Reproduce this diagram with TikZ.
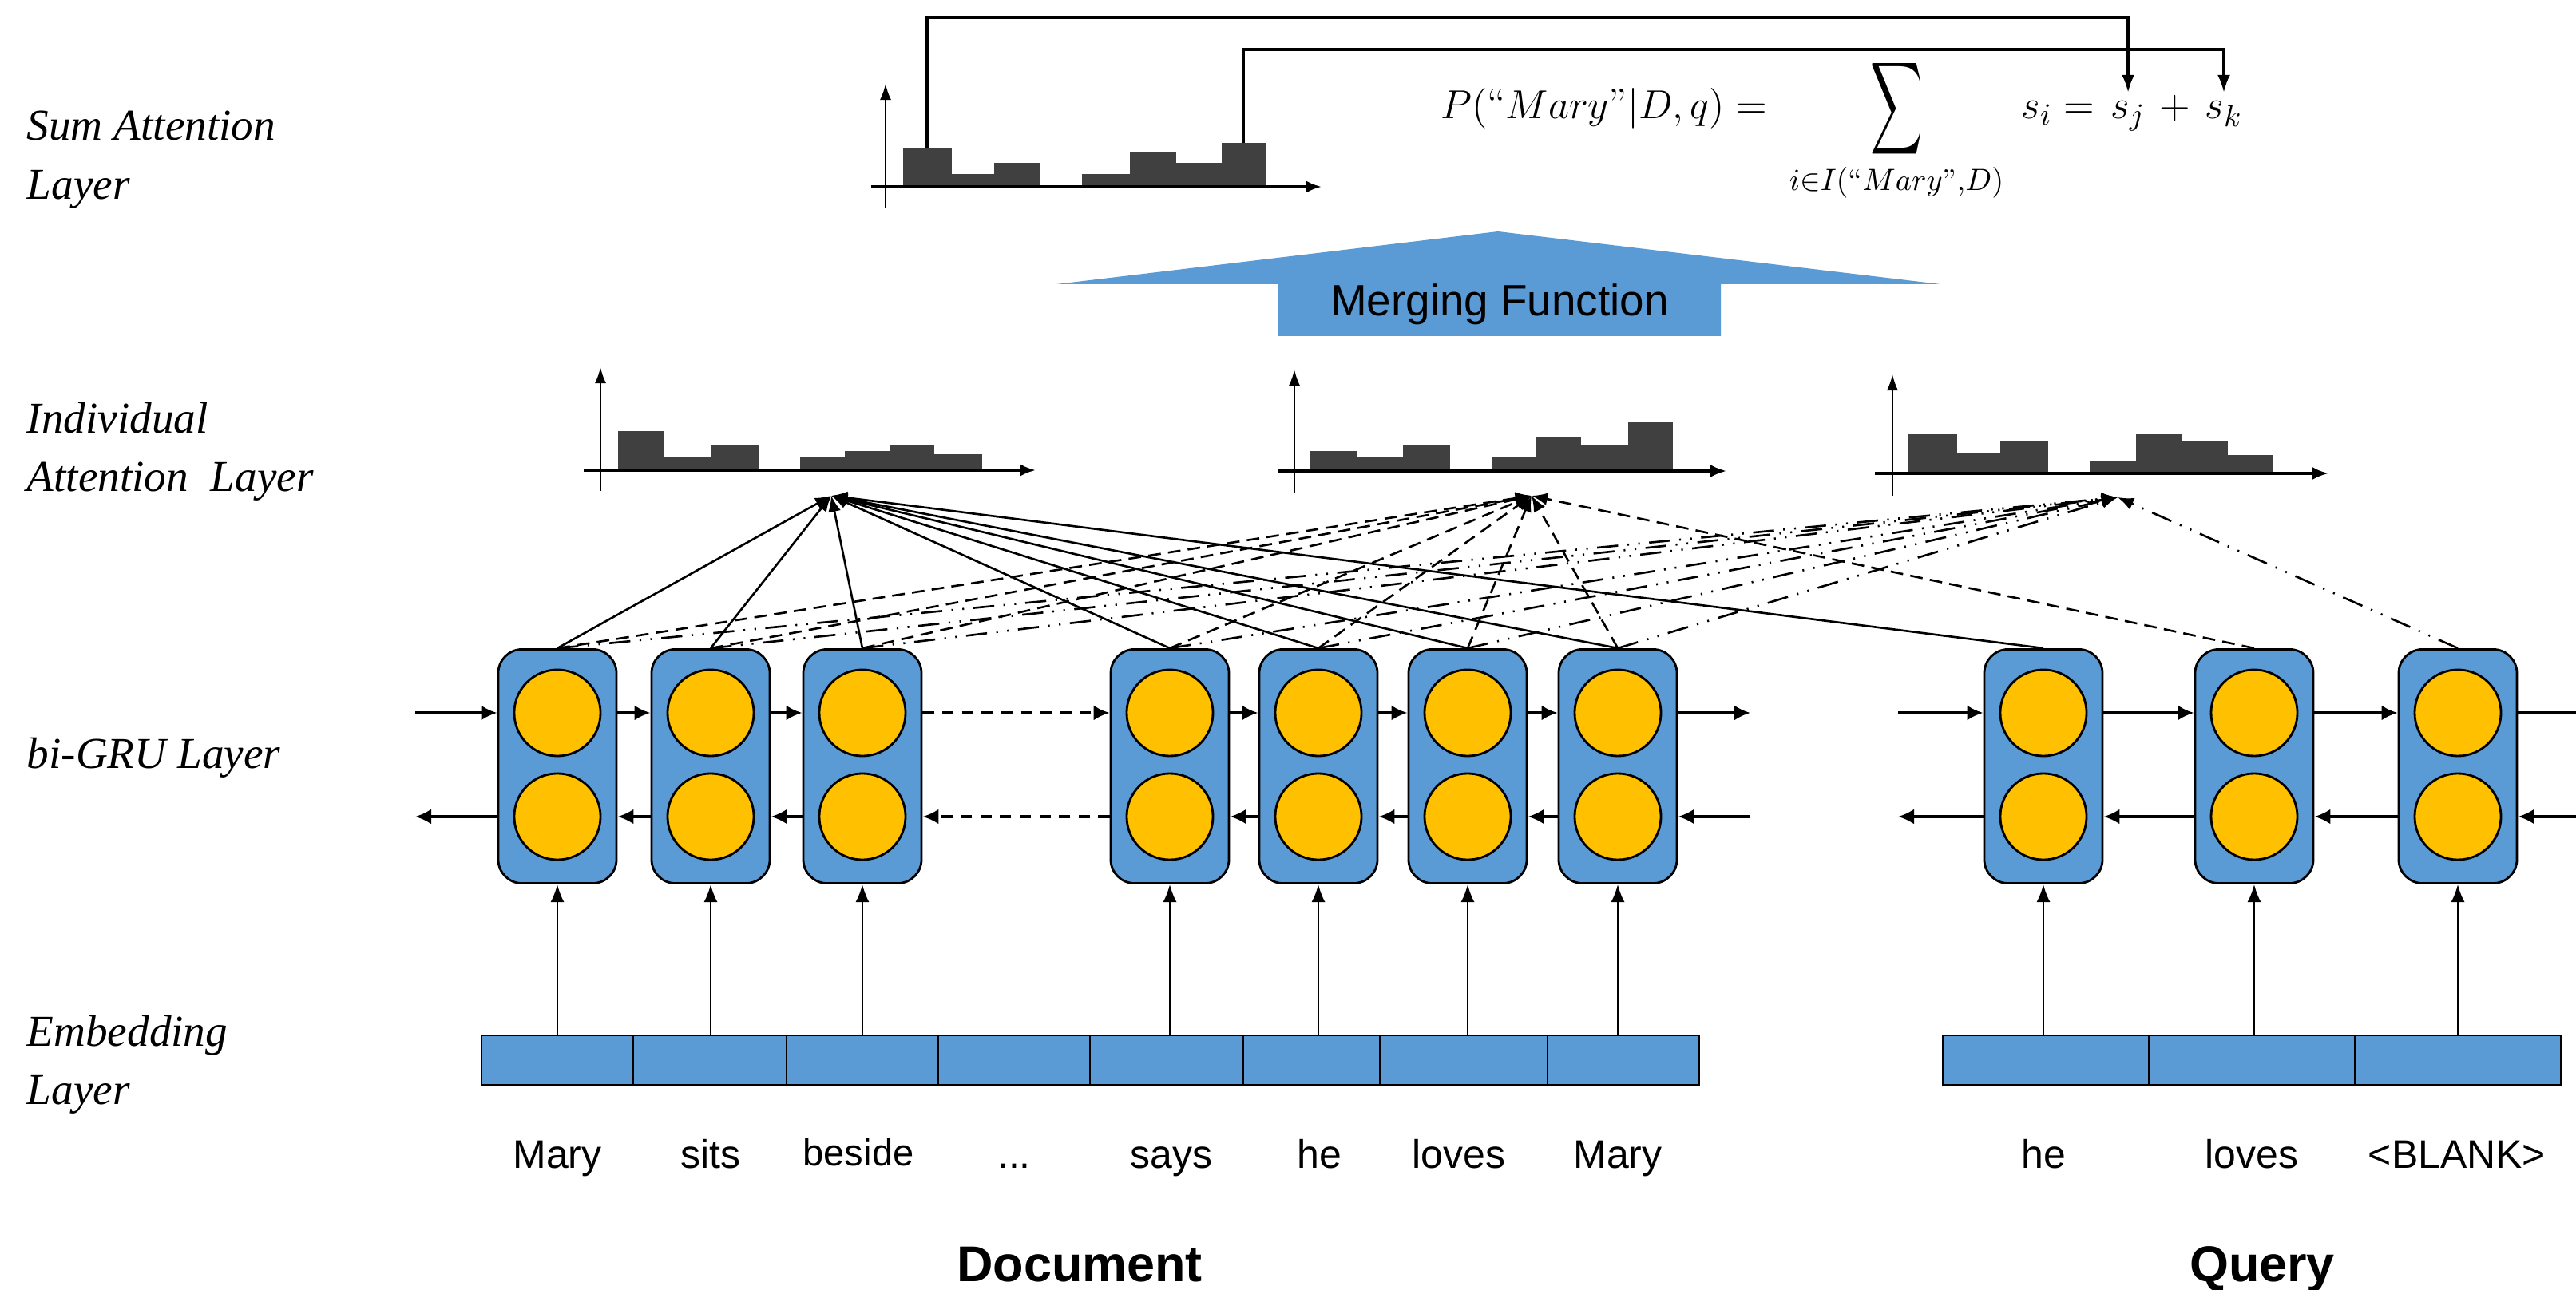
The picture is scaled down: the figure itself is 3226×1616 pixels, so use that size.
\documentclass[tikz,border=0pt]{standalone}
\usepackage{amsmath}
\usepackage{fontspec}
\newfontfamily\labelfont{Liberation Serif}
\newfontfamily\wordfont{Liberation Sans}
\usetikzlibrary{arrows.meta}
\definecolor{gblue}{RGB}{91,155,213}
\definecolor{gyellow}{RGB}{255,192,0}
\definecolor{barcol}{RGB}{64,64,64}
\tikzset{
 layerlbl/.style={anchor=base west, inner sep=0, font=\labelfont\itshape\fontsize{15.7}{19}\selectfont},
 wordlbl/.style={anchor=base, inner sep=0, font=\wordfont\fontsize{14.2}{17}\selectfont},
 formulapart/.style={anchor=base west, inner sep=0, font=\fontsize{15.2}{18}\selectfont},
 grubox/.style={draw=black, line width=0.8pt, fill=gblue, rounded corners=0.3cm, minimum width=1.48cm, minimum height=2.93cm, inner sep=0},
 gruunit/.style={circle, draw=black, line width=0.8pt, fill=gyellow, minimum size=1.08cm, inner sep=0},
 emb/.style={draw=black, line width=0.8pt, fill=gblue, minimum height=0.62cm, inner sep=0, outer sep=0},
 flow/.style={line width=1pt, -{Latex[length=0.2cm,width=0.19cm]}},
 flowdash/.style={flow, dash pattern=on 4pt off 3pt},
 plainflow/.style={line width=1pt},
 embup/.style={line width=0.6pt, -{Latex[length=0.22cm,width=0.17cm]}},
 att/.style={line width=0.75pt, -{Latex[length=0.2cm,width=0.16cm]}},
 attA/.style={att},
 attB/.style={att, dash pattern=on 4.5pt off 2.6pt},
 attC/.style={att, dash pattern=on 7.5pt off 3.3pt on 0.6pt off 3.3pt on 0.6pt off 3.3pt},
 vaxis/.style={line width=0.6pt, -{Latex[length=0.2cm,width=0.14cm]}},
 haxis/.style={line width=1pt, -{Latex[length=0.2cm,width=0.16cm]}},
 hbar/.style={fill=barcol, draw=none},
 sumline/.style={line width=1pt, -{Latex[length=0.22cm,width=0.16cm]}},
 mergearrow/.style={fill=gblue, draw=none},
}
\begin{document}
\begin{tikzpicture}[x=0.01cm, y=-0.01cm]
\useasboundingbox (0,0) rectangle (3226,1616);
\fill[white] (0,0) rectangle (3226,1616);

% ---------- layer labels ----------
\node[layerlbl] (lsum1) at (33,176) {Sum Attention};
\node[layerlbl] (lsum2) at (33,250) {Layer};
\node[layerlbl] (lind1) at (33,543) {Individual};
\node[layerlbl] (lind2) at (33,616) {Attention~ Layer};
\node[layerlbl] (lgru) at (33,962) {bi-GRU Layer};
\node[layerlbl] (lemb1) at (33,1310) {Embedding};
\node[layerlbl] (lemb2) at (33,1383) {Layer};

% ---------- sum attention histogram ----------
\fill[hbar] (1131,234) rectangle (1192,186);
\fill[hbar] (1192,234) rectangle (1245,218);
\fill[hbar] (1245,234) rectangle (1303,204);
\fill[hbar] (1355,234) rectangle (1415,218);
\fill[hbar] (1415,234) rectangle (1473,190);
\fill[hbar] (1473,234) rectangle (1530,204);
\fill[hbar] (1530,234) rectangle (1585,179);
\draw[vaxis] (1109,260) -- (1109,105);
\draw[haxis] (1091,234) -- (1655,234);

% ---------- formula ----------
\node[formulapart] (flhs) at (1804,149)
 {$P(\text{“}Mary\text{”}|D,q) = \hspace{4pt}\mathop{\vcenter{\hbox{\scalebox{0.9}[1.6]{$\displaystyle\sum$}}}}\limits_{i\in I(\text{“}Mary\text{”},D)}\hspace{4pt} s_i =$};
\node[formulapart] (fsj) at ([xshift=5.5pt]flhs.base east) {$s_j$};
\node[formulapart] (fplus) at ([xshift=4.8pt]fsj.base east) {$+$};
\node[formulapart] (fsk) at ([xshift=4.8pt]fplus.base east) {$s_k$};

\coordinate (sb1) at (1161,186);
\coordinate (sb7) at (1557,179);
\coordinate (row1) at (0,22);
\coordinate (row2) at (0,62);
\draw[sumline] (sb1) -- (sb1 |- row1) -| ([yshift=3pt]fsj.north);
\draw[sumline] (sb7) -- (sb7 |- row2) -| ([yshift=3pt]fsk.north);

% ---------- merging function arrow ----------
\fill[mergearrow] (1876,290) -- (2430,356) -- (2155,356) -- (2155,421) -- (1600,421) -- (1600,356) -- (1323,356) -- cycle;
\node[anchor=base, inner sep=0, font=\wordfont\fontsize{15.6}{18}\selectfont] (merge) at (1878,396) {Merging Function};

% ---------- individual attention histograms ----------
\fill[hbar] (774,589) rectangle (832,540);
\fill[hbar] (832,589) rectangle (891,573);
\fill[hbar] (891,589) rectangle (950,558);
\fill[hbar] (1002,589) rectangle (1058,573);
\fill[hbar] (1058,589) rectangle (1114,565);
\fill[hbar] (1114,589) rectangle (1170,558);
\fill[hbar] (1170,589) rectangle (1230,569);
\draw[vaxis] (752,615) -- (752,460);
\draw[haxis] (731,589) -- (1297,589);

\fill[hbar] (1640,590) rectangle (1699,565);
\fill[hbar] (1699,590) rectangle (1757,573);
\fill[hbar] (1757,590) rectangle (1816,558);
\fill[hbar] (1868,590) rectangle (1924,573);
\fill[hbar] (1924,590) rectangle (1980,547);
\fill[hbar] (1980,590) rectangle (2039,558);
\fill[hbar] (2039,590) rectangle (2095,529);
\draw[vaxis] (1621,618) -- (1621,463);
\draw[haxis] (1600,590) -- (2162,590);

\fill[hbar] (2390,593) rectangle (2451,544);
\fill[hbar] (2451,593) rectangle (2505,567);
\fill[hbar] (2505,593) rectangle (2565,553);
\fill[hbar] (2617,593) rectangle (2675,577);
\fill[hbar] (2675,593) rectangle (2733,544);
\fill[hbar] (2733,593) rectangle (2790,553);
\fill[hbar] (2790,593) rectangle (2847,570);
\draw[vaxis] (2370,621) -- (2370,469);
\draw[haxis] (2348,593) -- (2916,593);

\coordinate (a1) at (1041,621);
\coordinate (a2) at (1918,621);
\coordinate (a3) at (2652,623);

% ---------- embedding layer ----------
\node[emb, minimum width=1.90cm] (e1) at (698,1328) {};
\node[emb, minimum width=1.92cm] (e2) at (889,1328) {};
\node[emb, minimum width=1.90cm] (e3) at (1080,1328) {};
\node[emb, minimum width=1.90cm] (e4) at (1270,1328) {};
\node[emb, minimum width=1.92cm] (e5) at (1461,1328) {};
\node[emb, minimum width=1.71cm] (e6) at (1642.5,1328) {};
\node[emb, minimum width=2.10cm] (e7) at (1833,1328) {};
\node[emb, minimum width=1.90cm] (e8) at (2033,1328) {};
\node[emb, minimum width=2.58cm] (qe1) at (2562,1328) {};
\node[emb, minimum width=2.58cm] (qe2) at (2820,1328) {};
\node[emb, minimum width=2.58cm] (qe3) at (3078,1328) {};

% ---------- bi-GRU boxes ----------
\foreach \n/\x in {g1/698, g2/890, g3/1080, g4/1465, g5/1651, g6/1838, g7/2026, q1/2559, q2/2823, q3/3078} {
  \node[grubox] (\n) at (\x,960) {};
  \node[gruunit] (\n a) at (\x,893) {};
  \node[gruunit] (\n b) at (\x,1023) {};
}

% embedding -> GRU
\foreach \g/\e in {g1/e1, g2/e2, g3/e3, g4/e5, g5/e6, g6/e7, g7/e8, q1/qe1, q2/qe2, q3/qe3}
  \draw[embup] (\g.south |- \e.north) -- (\g.south);

% forward / backward recurrences (document)
\coordinate (dinf) at (520,893);
\coordinate (dinb) at (520,1023);
\coordinate (doutf) at (2192,893);
\coordinate (doutb) at (2192,1023);
\draw[flow] (dinf) -- (g1.west |- g1a);
\draw[flow] (g1.east |- g1a) -- (g2.west |- g2a);
\draw[flow] (g2.east |- g2a) -- (g3.west |- g3a);
\draw[flowdash] (g3.east |- g3a) -- (g4.west |- g4a);
\draw[flow] (g4.east |- g4a) -- (g5.west |- g5a);
\draw[flow] (g5.east |- g5a) -- (g6.west |- g6a);
\draw[flow] (g6.east |- g6a) -- (g7.west |- g7a);
\draw[flow] (g7.east |- g7a) -- (doutf);
\draw[flow] (doutb) -- (g7.east |- g7b);
\draw[flow] (g7.west |- g7b) -- (g6.east |- g6b);
\draw[flow] (g6.west |- g6b) -- (g5.east |- g5b);
\draw[flow] (g5.west |- g5b) -- (g4.east |- g4b);
\draw[flowdash] (g4.west |- g4b) -- (g3.east |- g3b);
\draw[flow] (g3.west |- g3b) -- (g2.east |- g2b);
\draw[flow] (g2.west |- g2b) -- (g1.east |- g1b);
\draw[flow] (g1.west |- g1b) -- (dinb);

% forward / backward recurrences (query)
\coordinate (qinf) at (2377,893);
\coordinate (qinb) at (2377,1023);
\coordinate (qoutf) at (3226,893);
\coordinate (qoutb) at (3226,1023);
\draw[flow] (qinf) -- (q1.west |- q1a);
\draw[flow] (q1.east |- q1a) -- (q2.west |- q2a);
\draw[flow] (q2.east |- q2a) -- (q3.west |- q3a);
\draw[plainflow] (q3.east |- q3a) -- (qoutf);
\draw[flow] (qoutb) -- (q3.east |- q3b);
\draw[flow] (q3.west |- q3b) -- (q2.east |- q2b);
\draw[flow] (q2.west |- q2b) -- (q1.east |- q1b);
\draw[flow] (q1.west |- q1b) -- (qinb);

% ---------- attention connectors ----------
\foreach \g in {g1,g2,g3,g4,g5,g6,g7,q1} \draw[attA] (\g.north) -- (a1);
\foreach \g in {g1,g2,g3,g4,g5,g6,g7,q2} \draw[attB] (\g.north) -- (a2);
\foreach \g in {g1,g2,g3,g4,g5,g6,g7,q3} \draw[attC] (\g.north) -- (a3);

% ---------- words ----------
\node[wordlbl] (w1) at (698,1463) {Mary};
\node[wordlbl] (w2) at (890,1463) {sits};
\node[wordlbl, font=\wordfont\fontsize{13.4}{16}\selectfont] (w3) at (1075,1460) {beside};
\node[wordlbl] (w4) at (1270,1463) {...};
\node[wordlbl] (w5) at (1467,1463) {says};
\node[wordlbl] (w6) at (1652,1463) {he};
\node[wordlbl] (w7) at (1827,1463) {loves};
\node[wordlbl] (w8) at (2026,1463) {Mary};
\node[wordlbl] (qw1) at (2559,1463) {he};
\node[wordlbl] (qw2) at (2820,1463) {loves};
\node[wordlbl] (qw3) at (3077,1463) {<BLANK>};

\node[anchor=base, inner sep=0, font=\wordfont\bfseries\fontsize{17.9}{21}\selectfont] (doc) at (1352,1605) {Document};
\node[anchor=base, inner sep=0, font=\wordfont\bfseries\fontsize{17.9}{21}\selectfont] (qry) at (2833,1605) {Query};
\end{tikzpicture}
\end{document}
